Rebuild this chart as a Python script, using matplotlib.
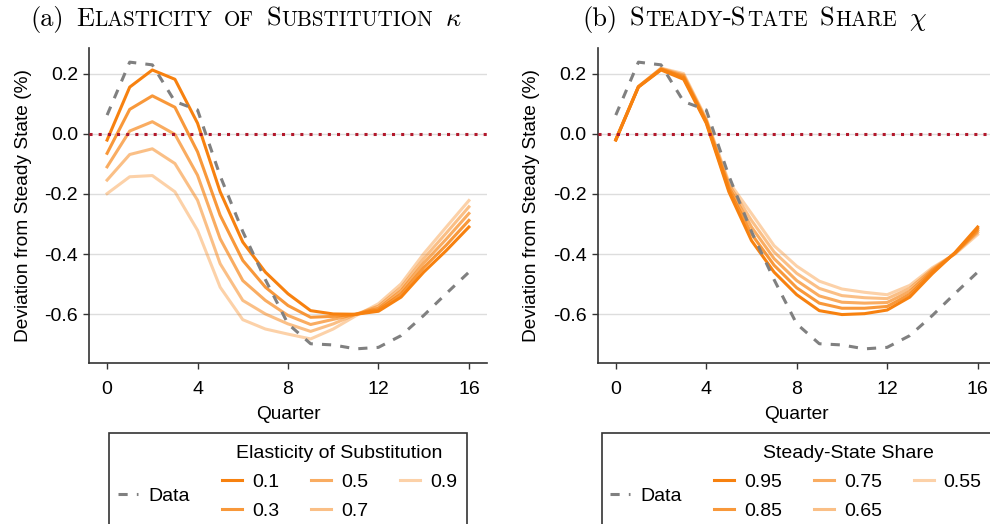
import matplotlib
matplotlib.use("Agg")
import matplotlib.pyplot as plt
from matplotlib.patches import Rectangle

# ---------------- data ----------------
quarters = list(range(17))

data_irf = [0.062, 0.238, 0.229, 0.107, 0.079, -0.14, -0.325, -0.485, -0.632,
            -0.698, -0.702, -0.715, -0.71, -0.671, -0.604, -0.531, -0.46]

kappa_labels = ["0.1", "0.3", "0.5", "0.7", "0.9"]
kappa_01 = [-0.021, 0.155, 0.212, 0.181, 0.035, -0.193, -0.36, -0.46, -0.532,
            -0.588, -0.599, -0.60, -0.59, -0.543, -0.46, -0.388, -0.31]
kappa_03 = [-0.065, 0.081, 0.126, 0.088, -0.06, -0.271, -0.421, -0.51, -0.571,
            -0.61, -0.607, -0.60, -0.585, -0.533, -0.445, -0.37, -0.288]
kappa_05 = [-0.11, 0.009, 0.04, -0.002, -0.138, -0.349, -0.488, -0.554, -0.604,
            -0.634, -0.617, -0.60, -0.58, -0.522, -0.43, -0.35, -0.265]
kappa_07 = [-0.154, -0.069, -0.05, -0.099, -0.221, -0.432, -0.554, -0.599, -0.632,
            -0.657, -0.632, -0.60, -0.573, -0.511, -0.415, -0.33, -0.243]
kappa_09 = [-0.199, -0.143, -0.139, -0.193, -0.321, -0.51, -0.618, -0.649, -0.666,
            -0.682, -0.649, -0.605, -0.565, -0.499, -0.399, -0.31, -0.222]

chi_labels = ["0.95", "0.85", "0.75", "0.65", "0.55"]
chi_095 = [-0.021, 0.155, 0.212, 0.181, 0.035, -0.193, -0.355, -0.46, -0.535,
           -0.588, -0.601, -0.598, -0.586, -0.543, -0.465, -0.395, -0.31]
chi_085 = [-0.02, 0.156, 0.214, 0.186, 0.039, -0.185, -0.333, -0.437, -0.512,
           -0.563, -0.58, -0.58, -0.574, -0.534, -0.46, -0.396, -0.316]
chi_075 = [-0.02, 0.156, 0.215, 0.19, 0.042, -0.177, -0.31, -0.415, -0.488,
           -0.539, -0.56, -0.563, -0.561, -0.524, -0.455, -0.397, -0.322]
chi_065 = [-0.02, 0.157, 0.217, 0.195, 0.046, -0.168, -0.288, -0.393, -0.464,
           -0.514, -0.538, -0.545, -0.548, -0.514, -0.45, -0.398, -0.328]
chi_055 = [-0.019, 0.157, 0.218, 0.20, 0.05, -0.16, -0.265, -0.372, -0.44,
           -0.49, -0.516, -0.527, -0.535, -0.504, -0.445, -0.40, -0.335]

x_ticks = [0, 4, 8, 12, 16]
y_ticks = [0.2, 0.0, -0.2, -0.4, -0.6]
y_tick_labels = ["0.2", "0.0", "-0.2", "-0.4", "-0.6"]

# ---------------- style ----------------
plt.rcParams['font.family'] = ['Liberation Sans', 'DejaVu Sans']
plt.rcParams['mathtext.fontset'] = 'cm'

W, H = 990, 524
fig = plt.figure(figsize=(W / 100, H / 100), dpi=100)


def fx(px):
    return px / W


def fy(py):
    return 1 - py / H


ORANGE = '#F7810F'
ALPHAS = [1.0, 0.82, 0.66, 0.5, 0.36]
LW = 2.2
FS_TICK = 14
FS_LAB = 13.8
FS_LEG = 14

ax_w = 398 / W
ax_h = (362.7 - 48) / H
ax_b = fy(362.7)
axA = fig.add_axes([fx(89), ax_b, ax_w, ax_h])
axB = fig.add_axes([fx(597.7), ax_b, ax_w, ax_h])


def setup(ax):
    ax.set_xlim(-0.8, 16.8)
    ax.set_ylim(-0.761, 0.285)
    ax.set_xticks(x_ticks)
    ax.set_yticks(y_ticks)
    ax.set_yticklabels(y_tick_labels)
    ax.grid(axis='y', color='#DDDDDD', lw=1.0)
    ax.grid(axis='x', visible=False)
    ax.set_axisbelow(True)
    for s in ['top', 'right']:
        ax.spines[s].set_visible(False)
    for s in ['left', 'bottom']:
        ax.spines[s].set_color('#333333')
        ax.spines[s].set_linewidth(1.2)
    ax.tick_params(color='#333333', labelcolor='black', length=4, width=1,
                   labelsize=FS_TICK)
    ax.tick_params(axis='x', pad=9)
    ax.tick_params(axis='y', pad=4)
    ax.axhline(0, color='#B2182B', ls=(0, (1, 2)), lw=2.2, zorder=4)
    ax.set_xlabel('Quarter', fontsize=FS_LAB, labelpad=6)
    ax.set_ylabel('Deviation from Steady State (%)', fontsize=FS_LAB, labelpad=9)


def draw_panel(ax, series, labels):
    lines = []
    for vals, lab, a in zip(series, labels, ALPHAS):
        ln, = ax.plot(quarters, vals, color=ORANGE, alpha=a, lw=LW, label=lab,
                      solid_joinstyle='round', zorder=2)
        lines.append(ln)
    dl, = ax.plot(quarters, data_irf, color='#808080', lw=LW, ls=(0, (3, 3)),
                  label='Data', zorder=3)
    return lines, dl


setup(axA)
setup(axB)
linesA, dataA = draw_panel(axA, [kappa_01, kappa_03, kappa_05, kappa_07, kappa_09], kappa_labels)
linesB, dataB = draw_panel(axB, [chi_095, chi_085, chi_075, chi_065, chi_055], chi_labels)

# ---------------- legends ----------------
leg_kw = dict(frameon=False, fontsize=FS_LEG, title_fontsize=FS_LEG,
              handlelength=1.03, handletextpad=0.5, columnspacing=1.65,
              labelspacing=0.6, borderpad=0, borderaxespad=0, loc='center')


def make_legend(lines, labels, title, dl, cx, dcx, frame_left, frame_right):
    fig.legend(lines, labels, title=title, ncol=3,
               bbox_to_anchor=(fx(cx), fy(482.5)), **leg_kw)
    fig.legend([dl], ['Data'], bbox_to_anchor=(fx(dcx), fy(496)), **leg_kw)
    fig.add_artist(Rectangle((fx(frame_left), fy(560)), fx(frame_right - frame_left),
                             (560 - 433) / H, transform=fig.transFigure,
                             fill=False, ec='#333333', lw=1.2, clip_on=False))


make_legend(linesA, kappa_labels, 'Elasticity of Substitution', dataA, 339.5, 154, 109, 467)
make_legend(linesB, chi_labels, 'Steady-State Share', dataB, 848, 646, 602, 1100)

# ---------------- small-caps titles ----------------
renderer = fig.canvas.get_renderer()
BIG, SMALL = 19.0, 15.2


def piece_width(s, size, fam):
    t = fig.text(0, 0, s, fontsize=size, family=fam)
    w = t.get_window_extent(renderer).width
    t.remove()
    return w


def sc_title(cx_px, base_py, pieces):
    widths = []
    for s, size, fam, gap in pieces:
        widths.append(piece_width(s, size, fam) + gap)
    total = sum(widths) - pieces[-1][3]
    x = cx_px - total / 2
    for (s, size, fam, gap), w in zip(pieces, widths):
        fig.text(fx(x), fy(base_py), s, fontsize=size, family=fam,
                 va='baseline', ha='left')
        x += w


CM = 'cmr10'
G = 0.45 * BIG * 100 / 72
tA = [("(a)", BIG, CM, G), ("E", BIG, CM, 0.8), ("LASTICITY", SMALL, CM, G),
      ("OF", SMALL, CM, G), ("S", BIG, CM, 0.8), ("UBSTITUTION", SMALL, CM, G),
      (r"$\kappa$", BIG, CM, 0)]
tB = [("(b)", BIG, CM, G), ("S", BIG, CM, 0.8), ("TEADY", SMALL, CM, 0.8),
      ("-S", BIG, CM, 0.8), ("TATE", SMALL, CM, G), ("S", BIG, CM, 0.8),
      ("HARE", SMALL, CM, G), (r"$\chi$", BIG, CM, 0)]
sc_title(246, 26, tA)
sc_title(754.5, 26, tB)

fig.savefig('out.png', dpi=100)
